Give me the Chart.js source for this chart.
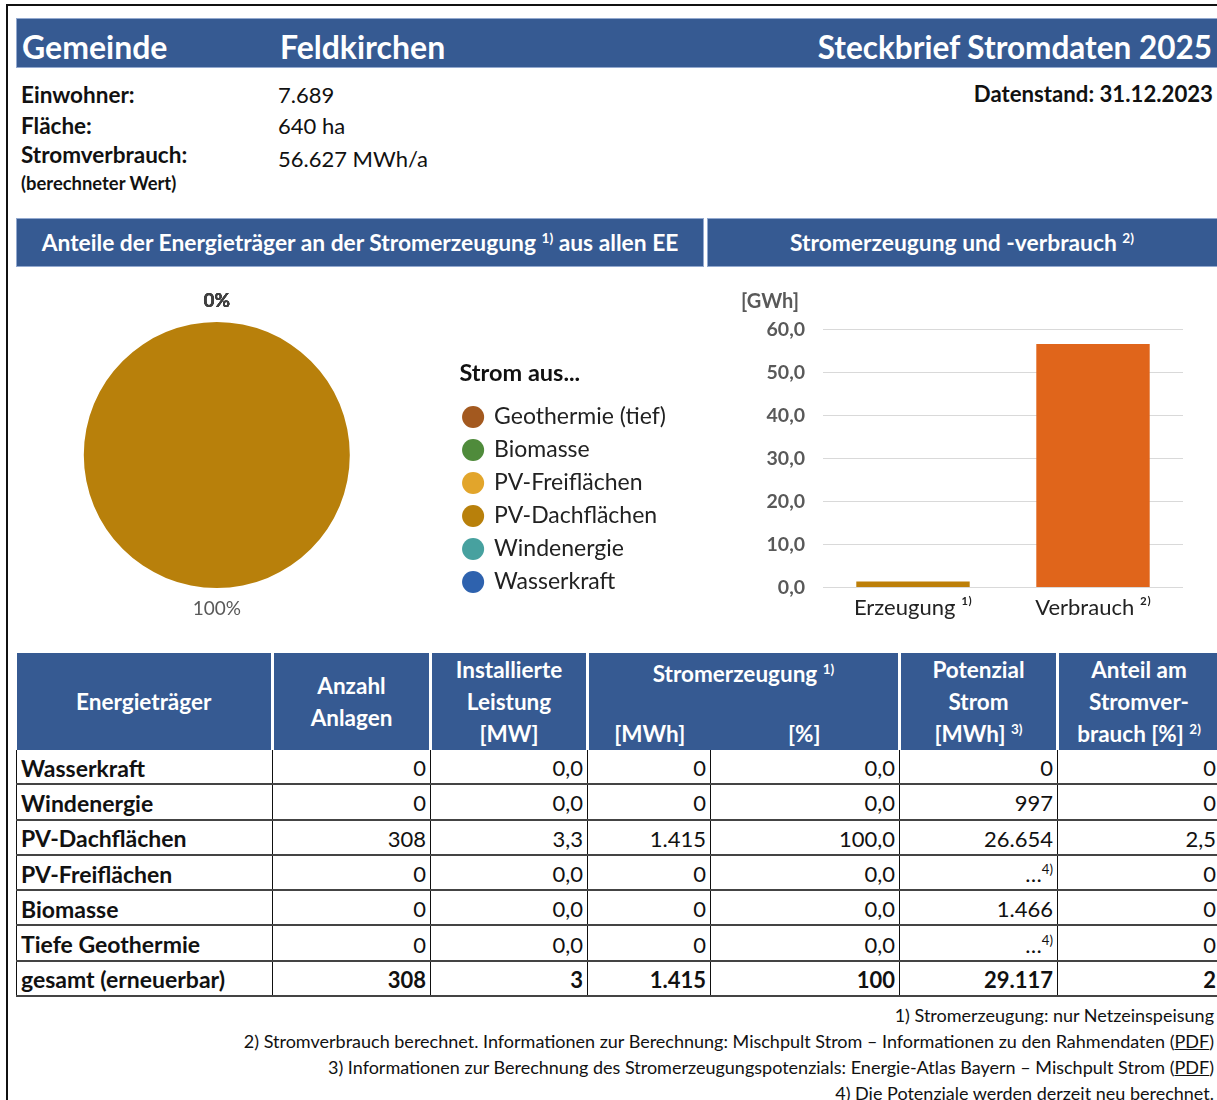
<!DOCTYPE html>
<html>
<head>
  <meta charset="utf-8">
  <title>Steckbrief Stromdaten 2025 – Feldkirchen</title>
  <script src="https://cdn.jsdelivr.net/npm/chart.js@4.4.1/dist/chart.umd.min.js"></script>
  <style>
    html, body { margin: 0; padding: 0; background: #fff; overflow: hidden; }
    body { position: relative; width: 1217px; height: 1100px; font-family: Lato, sans-serif; color: #111; }
    .abs { position: absolute; white-space: nowrap; }
    #frame { position: absolute; left: 6px; top: 4px; width: 1300px; height: 1200px;
      border-left: 2px solid #111; border-top: 2px solid #111; }
    .band { position: absolute; background: #365a92; box-shadow: inset 0 0 0 1px #93a9cf; }
    .band span { position: absolute; color: #fff; font-weight: bold; white-space: nowrap; }
    sup { font-size: 0.6em; line-height: 0; vertical-align: 0.6em; }
    .lbl { font-weight: bold; font-size: 22.5px; line-height: 26px; }
    .val { font-size: 22px; line-height: 26px; }
    #pieWrap { position: absolute; left: -20px; top: 270px; width: 724px; height: 370px; }
    #barWrap { position: absolute; left: 707px; top: 270px; width: 510px; height: 370px; }
    #tbl { position: absolute; left: 16px; top: 653px; border-collapse: collapse; table-layout: fixed; width: 1204px; }
    #tbl th { background: #365a92; color: #fff; font-size: 22.5px; font-weight: bold; line-height: 32px;
      border-left: 3px solid #fff; border-right: 3px solid #fff; padding: 0; text-align: center; vertical-align: middle; }
    #tbl th:first-child { border-left: none; }
    #tbl th.top { vertical-align: top; padding-top: 5px; }
    #tbl th.subl { border-right: none; }
    #tbl th.subr { border-left: none; }
    #tbl td { font-size: 22px; height: 31.3px; padding: 2px 4px 0 4px; text-align: right; white-space: nowrap;
      border-left: 1px solid #111; border-right: 1px solid #111;
      border-top: 2px solid #444; border-bottom: 2px solid #444; }
    #tbl tbody tr:first-child td { border-top: none; }
    #tbl td.name { text-align: left; font-weight: bold; font-size: 23px; }
    #tbl tr.sum td { font-weight: bold; }
    #tbl td sup { font-size: 0.6em; }
    #notes { position: absolute; right: 3px; top: 1002px; text-align: right; font-size: 18px; line-height: 26px; color: #111; }
    #notes u { text-decoration-thickness: 1px; }
  </style>
</head>
<body>
  <div id="frame"></div>

  <div class="band" style="left:16px; top:18px; width:1210px; height:50px;">
    <span style="left:6px; top:4px; line-height:50px; font-size:32px;">Gemeinde</span>
    <span style="left:264px; top:4px; line-height:50px; font-size:32px;">Feldkirchen</span>
  </div>
  <div class="abs" style="right:5px; top:22px; line-height:50px; font-size:31.5px; font-weight:bold; color:#fff;">Steckbrief Stromdaten 2025</div>

  <div class="abs lbl" style="left:21px; top:82px;">Einwohner:</div>
  <div class="abs lbl" style="left:21px; top:113px;">Fläche:</div>
  <div class="abs lbl" style="left:21px; top:142px;">Stromverbrauch:</div>
  <div class="abs" style="left:21px; top:172px; font-size:18.4px; line-height:22px; font-weight:bold;">(berechneter Wert)</div>
  <div class="abs val" id="einwohner" style="left:278px; top:82px;"></div>
  <div class="abs val" id="flaeche" style="left:278px; top:113px;"></div>
  <div class="abs val" id="verbrauch" style="left:278px; top:146px;"></div>
  <div class="abs lbl" style="right:4px; top:81px; font-size:22.2px;">Datenstand: 31.12.2023</div>

  <div class="band" style="left:16px; top:218px; width:688px; height:49px;">
    <span style="left:0; width:688px; text-align:center; line-height:49px; font-size:22.8px;">Anteile der Energieträger an der Stromerzeugung <sup>1)</sup> aus allen EE</span>
  </div>
  <div class="band" style="left:707px; top:218px; width:520px; height:49px;">
    <span style="left:0; width:510px; text-align:center; line-height:49px; font-size:22.8px;">Stromerzeugung und -verbrauch <sup>2)</sup></span>
  </div>

  <div id="pieWrap"><canvas id="pieChart"></canvas></div>
  <div id="barWrap"><canvas id="barChart"></canvas></div>

  <table id="tbl">
    <colgroup>
      <col style="width:256px"><col style="width:158px"><col style="width:157px">
      <col style="width:123px"><col style="width:189px"><col style="width:158px"><col style="width:163px">
    </colgroup>
    <thead>
      <tr style="height:65px;">
        <th rowspan="2">Energieträger</th>
        <th rowspan="2">Anzahl<br>Anlagen</th>
        <th rowspan="2">Installierte<br>Leistung<br>[MW]</th>
        <th colspan="2" class="top">Stromerzeugung <sup>1)</sup></th>
        <th rowspan="2">Potenzial<br>Strom<br>[MWh] <sup>3)</sup></th>
        <th rowspan="2">Anteil am<br>Stromver-<br>brauch [%] <sup>2)</sup></th>
      </tr>
      <tr style="height:32px;">
        <th class="subl">[MWh]</th>
        <th class="subr">[%]</th>
      </tr>
    </thead>
    <tbody id="tbody"></tbody>
  </table>

  <div id="notes">
    1) Stromerzeugung: nur Netzeinspeisung<br>
    2) Stromverbrauch berechnet. Informationen zur Berechnung: Mischpult Strom – Informationen zu den Rahmendaten (<u>PDF</u>)<br>
    3) Informationen zur Berechnung des Stromerzeugungspotenzials: Energie-Atlas Bayern – Mischpult Strom (<u>PDF</u>)<br>
    4) Die Potenziale werden derzeit neu berechnet.
  </div>

  <script>
    // Kenndaten
    const einwohner = 7689;
    const flaecheHa = 640;
    const verbrauchMWh = 56627;

    // Tabelle (Reihenfolge wie im Steckbrief)
    const energietraeger = ['Wasserkraft', 'Windenergie', 'PV-Dachflächen', 'PV-Freiflächen', 'Biomasse', 'Tiefe Geothermie'];
    const anzahlAnlagen  = [0, 0, 308, 0, 0, 0];
    const leistungMW     = [0, 0, 3.3, 0, 0, 0];
    const erzeugungMWh   = [0, 0, 1415, 0, 0, 0];
    const erzeugungPct   = [0, 0, 100, 0, 0, 0];
    const potenzialMWh   = [0, 997, 26654, null, 1466, null];   // null = wird neu berechnet
    const anteilPct      = [0, 0, 2.5, 0, 0, 0];
    const summe          = ['gesamt (erneuerbar)', '308', '3', '1.415', '100', '29.117', '2'];

    // Kreisdiagramm
    const pieLabels = ['Wasserkraft', 'Windenergie', 'PV-Dachflächen', 'PV-Freiflächen', 'Biomasse', 'Geothermie (tief)'];
    const pieColors = ['#2e62ae', '#47a19f', '#b8800b', '#e2a52b', '#4f8b3b', '#a3591f'];

    // Balkendiagramm [GWh]
    const barLabels = ['Erzeugung ¹⁾', 'Verbrauch ²⁾'];
    const barValues = [1.415, 56.627];
    const barColors = ['#bd7f08', '#e0651b'];

    const thousands = v => String(v).replace(/\B(?=(\d{3})+(?!\d))/g, '.');
    const comma1 = v => v.toFixed(1).replace('.', ',');

    document.getElementById('einwohner').textContent = thousands(einwohner);
    document.getElementById('flaeche').textContent = flaecheHa + ' ha';
    document.getElementById('verbrauch').textContent = thousands(verbrauchMWh) + ' MWh/a';

    const tbody = document.getElementById('tbody');
    energietraeger.forEach((name, i) => {
      const cells = [
        name,
        thousands(anzahlAnlagen[i]),
        comma1(leistungMW[i]),
        thousands(erzeugungMWh[i]),
        comma1(erzeugungPct[i]),
        potenzialMWh[i] === null ? '…<sup>4)</sup>' : thousands(potenzialMWh[i]),
        anteilPct[i] ? comma1(anteilPct[i]) : '0'
      ];
      const tr = document.createElement('tr');
      tr.innerHTML = cells.map((c, j) => `<td${j === 0 ? ' class="name"' : ''}>${c}</td>`).join('');
      tbody.appendChild(tr);
    });
    const sumRow = document.createElement('tr');
    sumRow.className = 'sum';
    sumRow.innerHTML = summe.map((c, j) => `<td${j === 0 ? ' class="name"' : ''}>${c}</td>`).join('');
    tbody.appendChild(sumRow);

    Chart.defaults.font.family = 'Lato, sans-serif';
    Chart.defaults.animation = false;

    // Prozentwerte außen an die Segmente schreiben
    const pieLabelPlugin = {
      id: 'pieLabels',
      afterDatasetsDraw(chart) {
        const ctx = chart.ctx;
        const data = chart.data.datasets[0].data;
        const total = data.reduce((a, b) => a + b, 0);
        ctx.save();
        ctx.textAlign = 'center';
        ctx.textBaseline = 'middle';
        chart.getDatasetMeta(0).data.forEach((arc, i) => {
          const p = arc.getProps(['x', 'y', 'startAngle', 'endAngle', 'outerRadius'], true);
          const mid = (p.startAngle + p.endAngle) / 2;
          const r = p.outerRadius + 21;
          const pct = Math.round(data[i] / total * 100);
          // die Nullwerte liegen übereinander und wirken dadurch fett
          ctx.font = (pct === 0 ? 'bold ' : '') + '19px Lato, sans-serif';
          ctx.fillStyle = pct === 0 ? '#404040' : '#595959';
          ctx.fillText(pct + '%', p.x + Math.cos(mid) * r, p.y + Math.sin(mid) * r);
        });
        ctx.restore();
      }
    };

    new Chart(document.getElementById('pieChart'), {
      type: 'pie',
      data: {
        labels: pieLabels,
        datasets: [{
          data: erzeugungMWh,
          backgroundColor: pieColors,
          borderWidth: 0,
          radius: 133
        }]
      },
      options: {
        responsive: true,
        maintainAspectRatio: false,
        layout: { padding: { left: 0, right: 28 } },
        plugins: {
          tooltip: { enabled: false },
          legend: {
            position: 'right',
            align: 'start',
            reverse: true,
            title: {
              display: true,
              position: 'start',
              text: '\u2009\u2009Strom aus...',
              color: '#111',
              font: { size: 23.5, weight: 'bold' },
              padding: { top: 91.25, bottom: 6 }
            },
            labels: {
              usePointStyle: true,
              pointStyle: 'circle',
              boxWidth: 19,
              boxHeight: 15.6,
              padding: 10,
              color: '#222',
              font: { size: 23 }
            }
          }
        }
      },
      plugins: [pieLabelPlugin]
    });

    new Chart(document.getElementById('barChart'), {
      type: 'bar',
      data: {
        labels: barLabels,
        datasets: [{
          data: barValues,
          backgroundColor: barColors,
          categoryPercentage: 1.0,
          barPercentage: 0.63
        }]
      },
      options: {
        responsive: true,
        maintainAspectRatio: false,
        layout: { padding: { left: 34, right: 34, top: 0, bottom: 12 } },
        plugins: {
          legend: { display: false },
          tooltip: { enabled: false },
          title: {
            display: true,
            text: '[GWh]',
            align: 'start',
            color: '#595959',
            font: { size: 20, weight: 'bold' },
            padding: { top: 19.8, bottom: 15.8 }
          }
        },
        scales: {
          x: {
            grid: { display: false, drawTicks: false },
            border: { display: false },
            ticks: { color: '#222', font: { size: 22 }, padding: 7 }
          },
          y: {
            min: 0,
            max: 60,
            afterFit: scale => { scale.width = 82; },
            grid: { color: '#d9d9d9', lineWidth: 1, drawTicks: false },
            border: { display: false },
            ticks: {
              stepSize: 10,
              padding: 18,
              color: '#595959',
              font: { size: 19.5, weight: 'bold' },
              callback: v => comma1(v)
            }
          }
        }
      }
    });
  </script>
</body>
</html>
